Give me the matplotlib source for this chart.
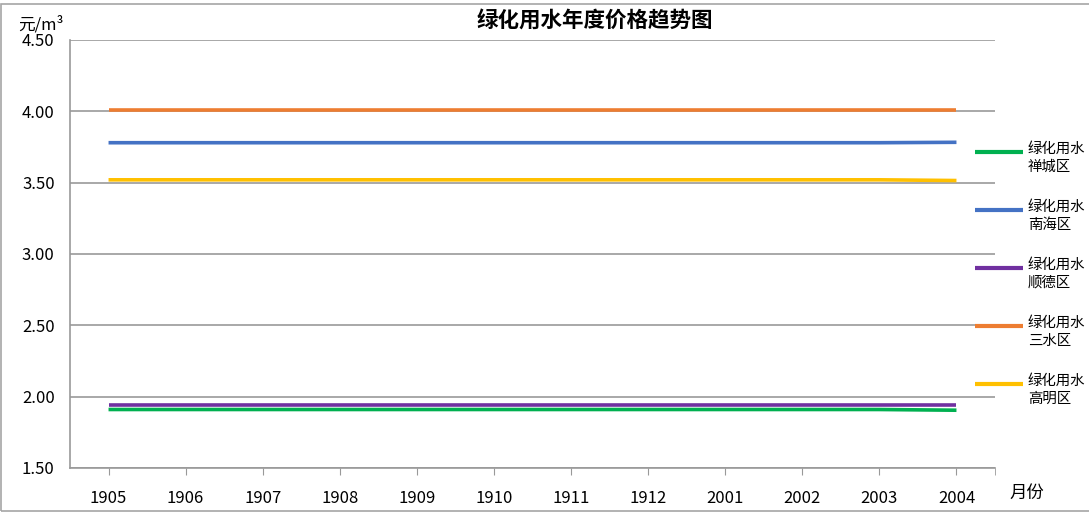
import matplotlib
matplotlib.use("Agg")
import matplotlib.pyplot as plt
from matplotlib.patches import Rectangle
from matplotlib.lines import Line2D

plt.rcParams['font.family'] = ['Noto Sans CJK SC', 'DejaVu Sans']

months = ['1905', '1906', '1907', '1908', '1909', '1910', '1911', '1912',
          '2001', '2002', '2003', '2004']
chancheng = [1.91, 1.91, 1.91, 1.91, 1.91, 1.91, 1.91, 1.91, 1.91, 1.91, 1.91, 1.905]
nanhai = [3.78, 3.78, 3.78, 3.78, 3.78, 3.78, 3.78, 3.78, 3.78, 3.78, 3.78, 3.783]
shunde = [1.94, 1.94, 1.94, 1.94, 1.94, 1.94, 1.94, 1.94, 1.94, 1.94, 1.94, 1.94]
sanshui = [4.01, 4.01, 4.01, 4.01, 4.01, 4.01, 4.01, 4.01, 4.01, 4.01, 4.01, 4.01]
gaoming = [3.52, 3.52, 3.52, 3.52, 3.52, 3.52, 3.52, 3.52, 3.52, 3.52, 3.52, 3.515]

series = [
    ('绿化用水\n禅城区', chancheng, '#00B050'),
    ('绿化用水\n南海区', nanhai, '#4472C4'),
    ('绿化用水\n顺德区', shunde, '#7030A0'),
    ('绿化用水\n三水区', sanshui, '#ED7D31'),
    ('绿化用水\n高明区', gaoming, '#FFC000'),
]

W, H = 1089, 513
fig = plt.figure(figsize=(W / 100, H / 100), dpi=100)
ax = fig.add_axes([70 / W, 1 - 468 / H, 925 / W, 428 / H])

x = list(range(len(months)))
for label, vals, color in series:
    ax.plot(x, vals, color=color, linewidth=2.6, solid_capstyle='butt')

ax.set_xlim(-0.5, len(months) - 0.5)
ax.set_ylim(1.5, 4.5)
yt = [1.5, 2.0, 2.5, 3.0, 3.5, 4.0, 4.5]
ax.set_yticks(yt)
ax.set_yticklabels(['%.2f' % v for v in yt], fontsize=12)
ax.set_xticks(x)
ax.set_xticklabels(months, fontsize=12)
ax.set_xticks([len(months) - 0.5], minor=True)
ax.tick_params(axis='y', length=0, pad=11)
ax.tick_params(axis='x', which='both', direction='out', length=5, color='#999999', pad=11)
ax.grid(axis='y', color='#999999', linewidth=1.2)
ax.set_axisbelow(True)
for s in ['top', 'right']:
    ax.spines[s].set_visible(False)
for s in ['left', 'bottom']:
    ax.spines[s].set_color('#999999')
    ax.spines[s].set_linewidth(1.2)

fig.text(595 / W, 1 - 21 / H, '绿化用水年度价格趋势图', ha='center', va='center',
         fontsize=15.5, fontweight='bold')
fig.text(41 / W, 1 - 25 / H, '元/m³', ha='center', va='center', fontsize=12)
fig.text(1027 / W, 1 - 493 / H, '月份', ha='center', va='center', fontsize=12.5)

# legend drawn by hand, handle aligned with first text line like Excel
for i, (label, vals, color) in enumerate(series):
    yy = 152 + 58 * i
    fig.add_artist(Line2D([975 / W, 1023 / W], [1 - yy / H, 1 - yy / H],
                          color=color, linewidth=3, solid_capstyle='butt'))
    fig.text(1028 / W, 1 - (yy - 10) / H, label, ha='left', va='top',
             fontsize=10.4, linespacing=1.35)

fig.patches.append(Rectangle((1 / W, 2 / H), 1.2, 1 - 6 / H, transform=fig.transFigure,
                             fill=False, edgecolor='#A6A6A6', linewidth=1.2))

fig.savefig('out.png', dpi=100)
